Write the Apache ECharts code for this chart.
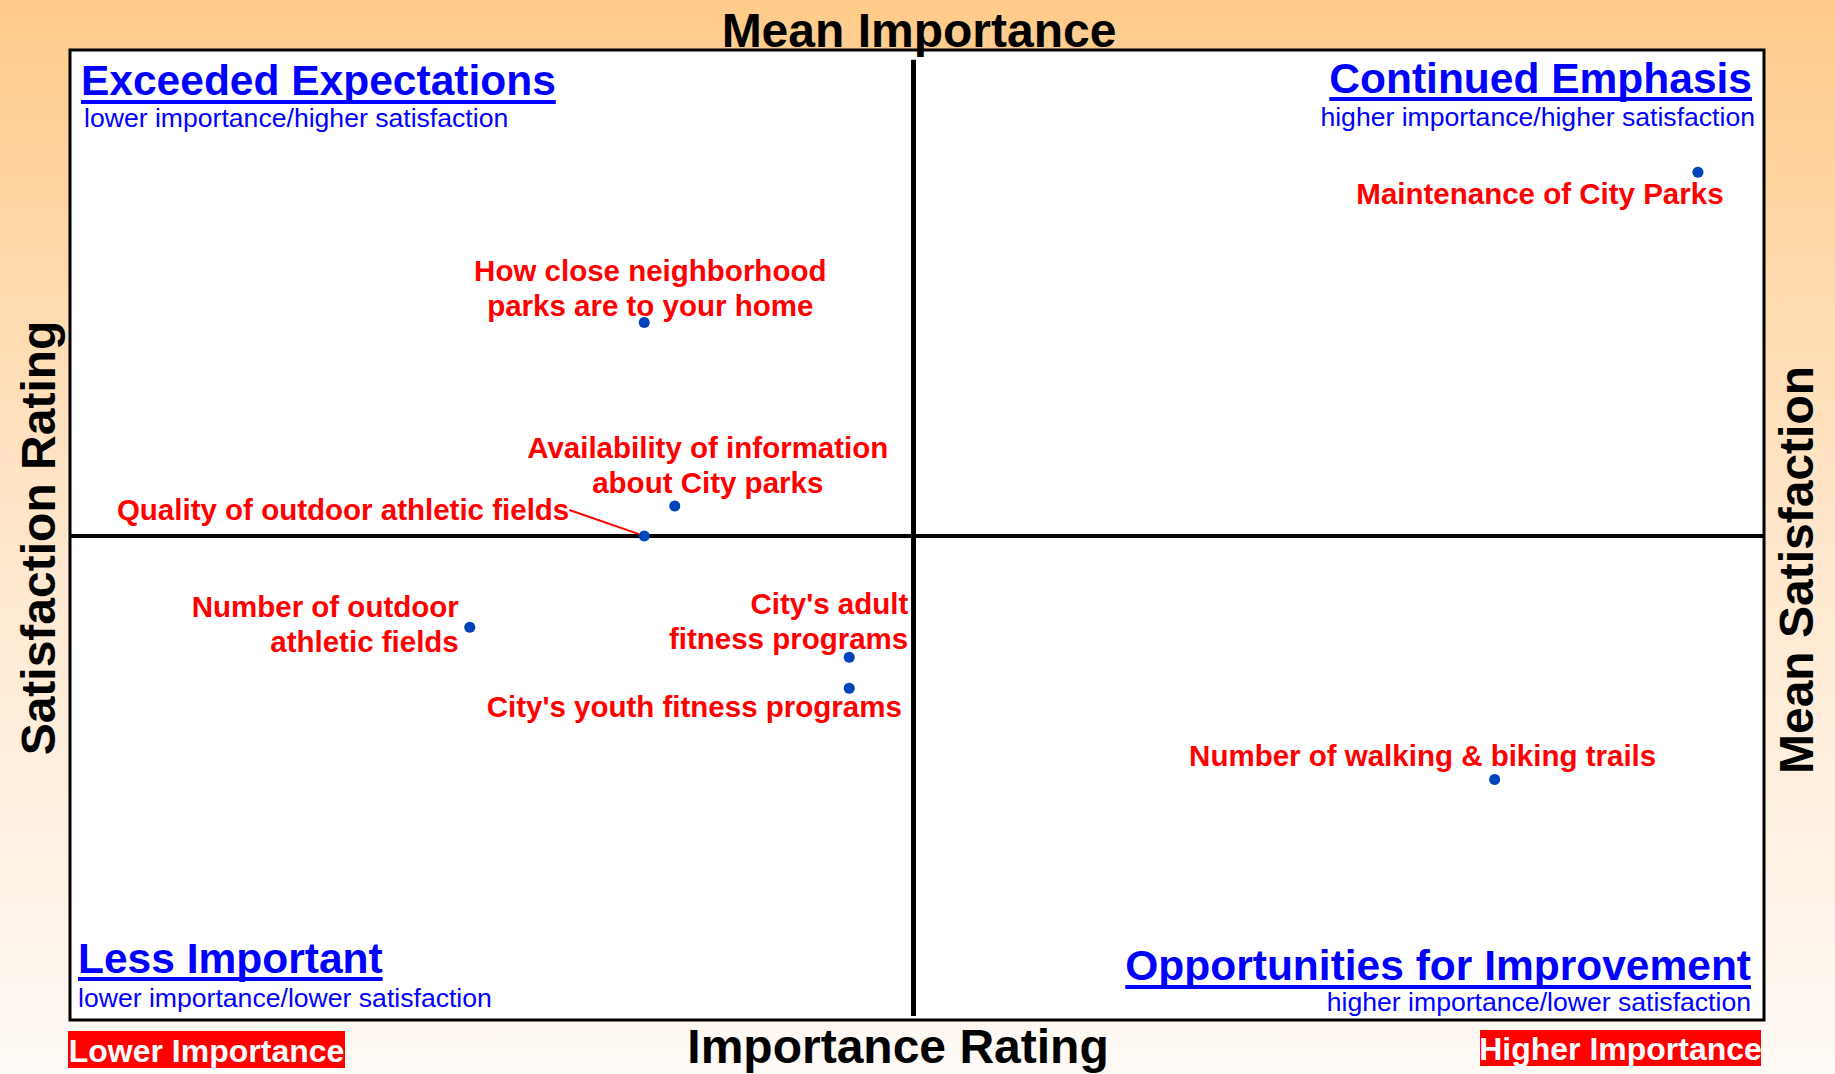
<!DOCTYPE html>
<html>
<head>
<meta charset="utf-8">
<title>Importance-Satisfaction Matrix</title>
<script src="https://cdn.jsdelivr.net/npm/echarts/dist/echarts.min.js"></script>
<style>
  html, body { margin: 0; padding: 0; }
  #chart { width: 1835px; height: 1074px; }
</style>
</head>
<body>
<div id="chart"></div>
<script>
// items rated, importance (x) and satisfaction (y) on a 0-100 scale
var items = [
  'Maintenance of City Parks',
  'How close neighborhood\nparks are to your home',
  'Availability of information\nabout City parks',
  'Quality of outdoor athletic fields',
  'Number of outdoor\nathletic fields',
  "City's adult\nfitness programs",
  "City's youth fitness programs",
  'Number of walking & biking trails'
];
var importance   = [96.1, 33.9, 35.7, 33.9, 23.6, 46.0, 46.0, 84.1];
var satisfaction = [87.4, 71.9, 53.0, 49.9, 40.5, 37.4, 34.2, 24.8];
var meanImportance = 49.8;
var meanSatisfaction = 49.9;

// where each label sits relative to its dot (pixels) and how it is aligned
var labelPlace = [
  { dx: -158, dy: 21,    align: 'center' },
  { dx: 6,    dy: -35,   align: 'center' },
  { dx: 33,   dy: -41,   align: 'center' },
  { dx: -75,  dy: -26,   align: 'right', line: true },
  { dx: -11,  dy: -3,    align: 'right' },
  { dx: 59,   dy: -36,   align: 'right' },
  { dx: -155, dy: 18,    align: 'center' },
  { dx: -72,  dy: -24,   align: 'center' }
];

var FONT = '"Liberation Sans", Arial, Helvetica, sans-serif';
var BLUE = '#0000FF';

var points = items.map(function (name, i) {
  var p = labelPlace[i];
  return {
    name: name,
    value: [importance[i], satisfaction[i]],
    label: { align: p.align },
    labelLine: { show: !!p.line, lineStyle: { color: '#FF0000', width: 2, opacity: 1 } }
  };
});

function textWidth(txt, font) {
  var c = document.createElement('canvas').getContext('2d');
  c.font = font;
  return c.measureText(txt).width;
}

function heading(txt, x, y, align, lineY) {
  var font = 'bold 42.5px ' + FONT;
  var w = textWidth(txt, font);
  var x0 = align === 'right' ? x - w : x;
  return [
    { type: 'text', x: x, y: y, style: { text: txt, fill: BLUE, font: font, textAlign: align, textVerticalAlign: 'middle' } },
    { type: 'line', shape: { x1: x0, y1: lineY, x2: x0 + w, y2: lineY }, style: { stroke: BLUE, lineWidth: 4 } }
  ];
}
function subText(txt, x, y, align) {
  return { type: 'text', x: x, y: y, style: { text: txt, fill: BLUE, font: '26.6px ' + FONT, textAlign: align, textVerticalAlign: 'middle' } };
}
function redTag(txt, x, y, w, h) {
  return [
    { type: 'rect', shape: { x: x, y: y, width: w, height: h }, style: { fill: '#FF0000' } },
    { type: 'text', x: x + w / 2, y: y + h / 2 + 1, style: { text: txt, fill: '#FFFFFF', font: 'bold 32px ' + FONT, textAlign: 'center', textVerticalAlign: 'middle' } }
  ];
}
function axisTitle(txt, x, y, rot) {
  return { type: 'text', x: x, y: y, rotation: rot, style: { text: txt, fill: '#000', font: 'bold 48px ' + FONT, textAlign: 'center', textVerticalAlign: 'middle' } };
}

var graphics = []
  .concat([
    axisTitle('Mean Importance', 919, 30, 0),
    axisTitle('Importance Rating', 898, 1046, 0),
    axisTitle('Satisfaction Rating', 38, 538, Math.PI / 2),
    axisTitle('Mean Satisfaction', 1796, 570, Math.PI / 2)
  ])
  .concat(heading('Exceeded Expectations', 81, 80, 'left', 102))
  .concat([subText('lower importance/higher satisfaction', 84, 118, 'left')])
  .concat(heading('Continued Emphasis', 1752, 78, 'right', 99))
  .concat([subText('higher importance/higher satisfaction', 1755, 117, 'right')])
  .concat(heading('Less Important', 78, 958, 'left', 979))
  .concat([subText('lower importance/lower satisfaction', 78, 998, 'left')])
  .concat(heading('Opportunities for Improvement', 1751, 965, 'right', 987))
  .concat([subText('higher importance/lower satisfaction', 1751, 1002, 'right')])
  .concat(redTag('Lower Importance', 68, 1031, 277, 37))
  .concat(redTag('Higher Importance', 1480, 1030, 281, 36));

var myChart = echarts.init(document.getElementById('chart'), null, { renderer: 'svg' });
var option = {
  animation: false,
  backgroundColor: new echarts.graphic.LinearGradient(0, 0, 0, 1, [
    { offset: 0, color: '#FFCB8A' },
    { offset: 0.5, color: '#FFE7CC' },
    { offset: 1, color: '#FFFAF6' }
  ]),
  grid: {
    left: 70, top: 50, width: 1694, height: 970,
    show: true, backgroundColor: '#FFFFFF', borderColor: '#000', borderWidth: 3
  },
  xAxis: {
    type: 'value', min: 0, max: 100,
    axisLine: { show: false }, axisTick: { show: false }, axisLabel: { show: false }, splitLine: { show: false }
  },
  yAxis: {
    type: 'value', min: 0, max: 100,
    axisLine: { show: false }, axisTick: { show: false }, axisLabel: { show: false }, splitLine: { show: false }
  },
  graphic: { elements: graphics },
  series: [{
    type: 'scatter',
    symbolSize: 11,
    itemStyle: { color: '#0044BB', opacity: 1 },
    data: points,
    z: 5,
    label: {
      show: true,
      position: 'inside',
      formatter: '{b}',
      color: '#FF0000',
      fontFamily: FONT,
      fontWeight: 'bold',
      fontSize: 29.5,
      lineHeight: 35
    },
    labelLayout: function (params) {
      var p = labelPlace[params.dataIndex];
      return { dx: p.dx, dy: p.dy };
    },
    markLine: {
      silent: true,
      symbol: 'none',
      label: { show: false },
      lineStyle: { color: '#000', type: 'solid', width: 4, opacity: 1 },
      data: [
        [{ coord: [meanImportance, 99], lineStyle: { width: 5 } }, { coord: [meanImportance, 0.4] }],
        { yAxis: meanSatisfaction }
      ]
    }
  }]
};
myChart.setOption(option);
</script>
</body>
</html>
